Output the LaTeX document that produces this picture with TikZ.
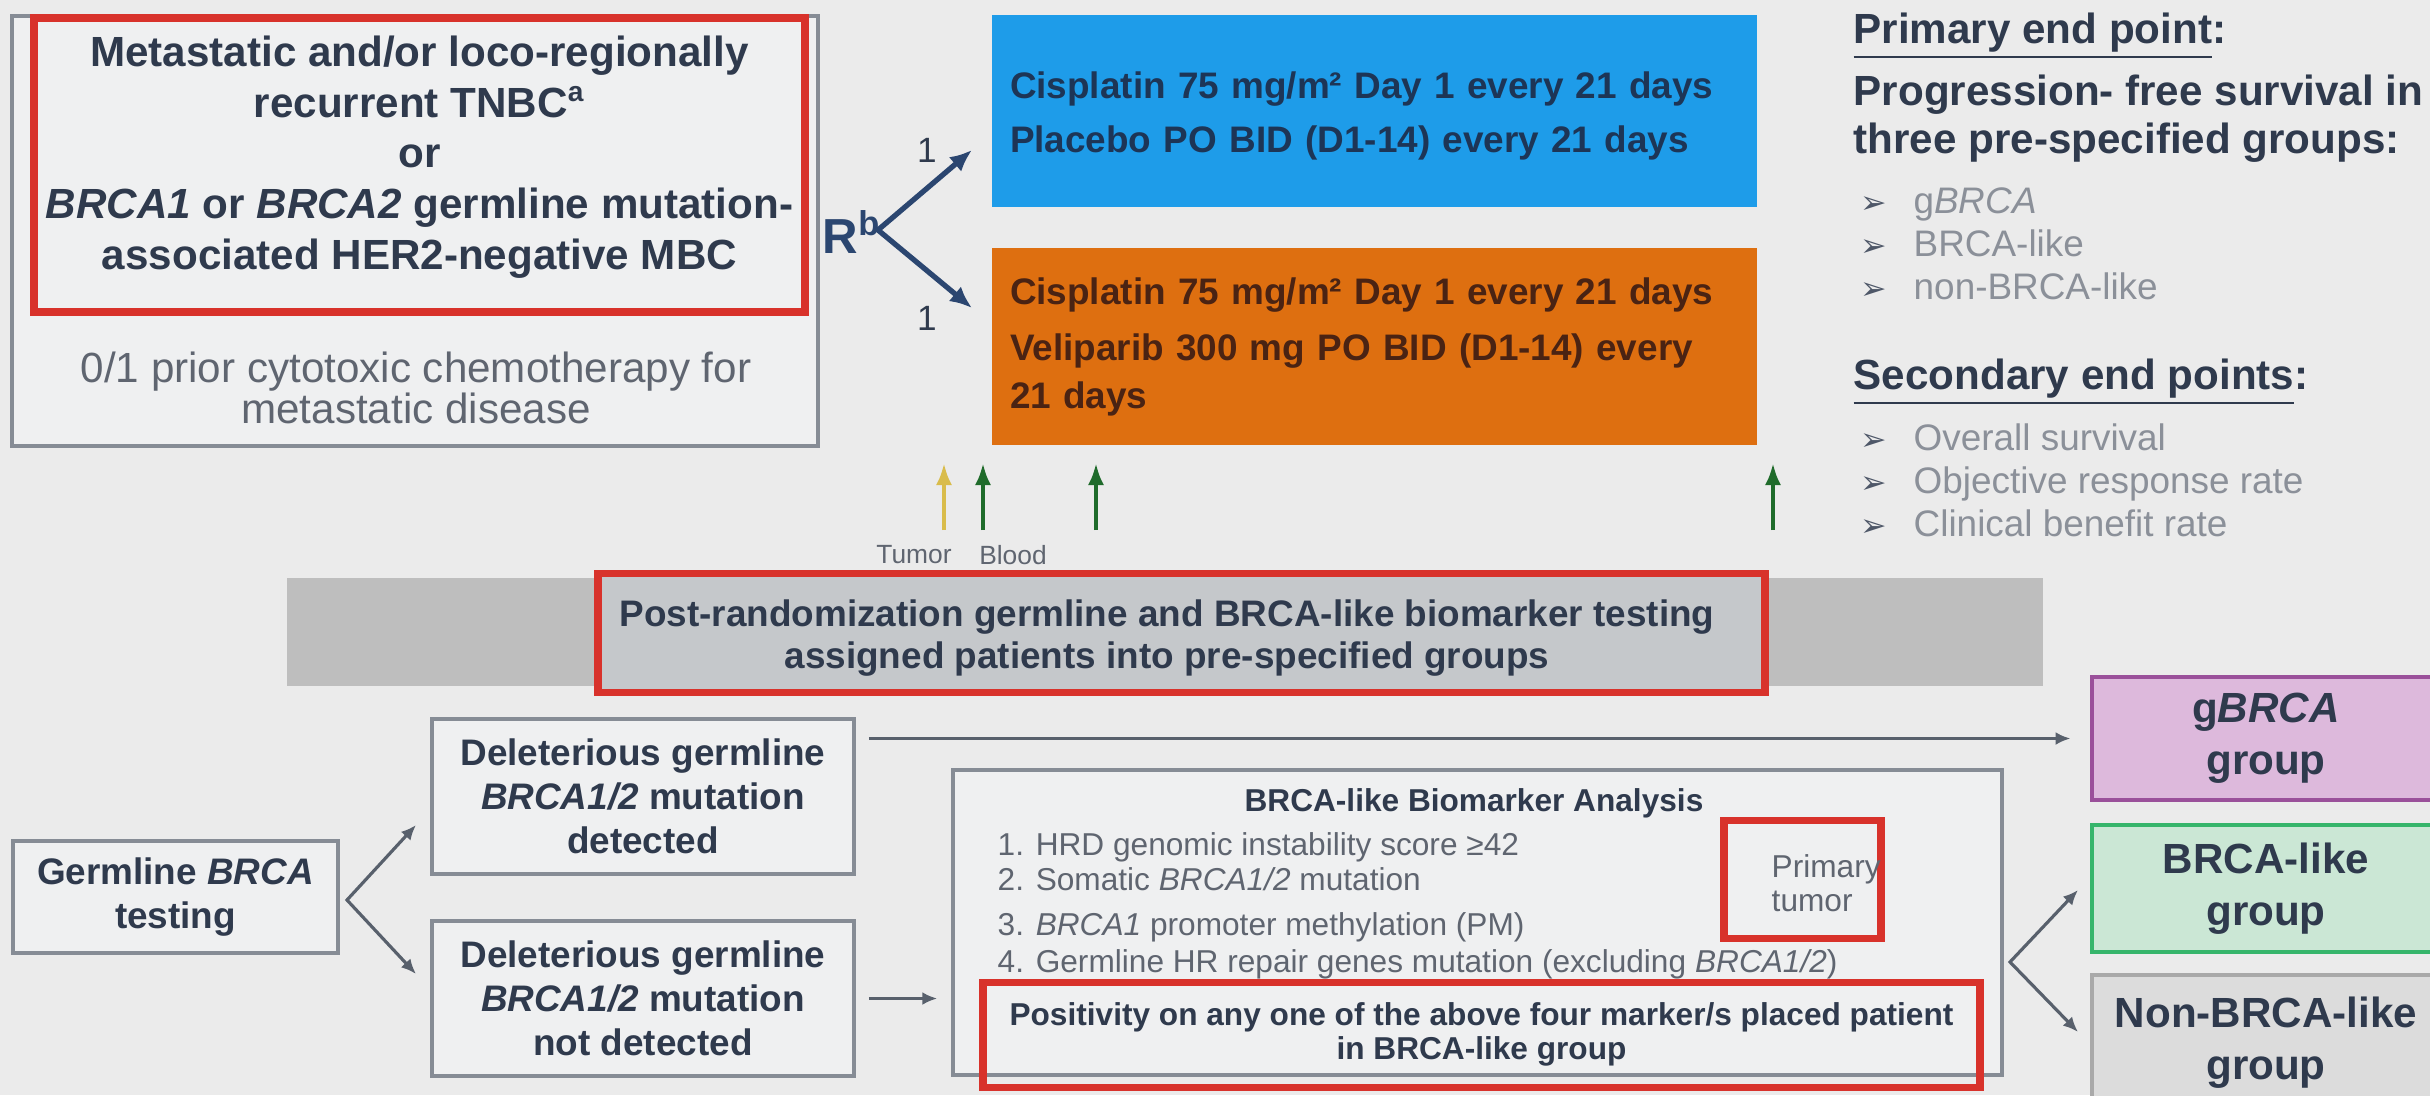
\documentclass[tikz,border=0pt]{standalone}
\usepackage{fontspec}
\setmainfont{Liberation Sans}
\newfontfamily\symfont{DejaVu Sans}
\usetikzlibrary{arrows.meta}

\definecolor{bgc}{HTML}{EBEBEB}
\definecolor{boxc}{HTML}{EFF0F1}
\definecolor{linec}{HTML}{868C95}
\definecolor{inkc}{HTML}{2F3A4D}
\definecolor{greyc}{HTML}{5F6570}
\definecolor{bulc}{HTML}{8B9099}
\definecolor{redc}{HTML}{D8322B}
\definecolor{bluec}{HTML}{1E9CE9}
\definecolor{bluetxt}{HTML}{1D3556}
\definecolor{orangec}{HTML}{DE6F10}
\definecolor{browntxt}{HTML}{4A2313}
\definecolor{bandc}{HTML}{BEBEBE}
\definecolor{postc}{HTML}{C5C8CB}
\definecolor{navyc}{HTML}{2B4670}
\definecolor{arrowc}{HTML}{58606C}
\definecolor{tumc}{HTML}{D9BC4B}
\definecolor{bloodc}{HTML}{1F6B2B}
\definecolor{gbfill}{HTML}{DDB9DC}
\definecolor{gbline}{HTML}{9A509A}
\definecolor{blfill}{HTML}{CBE7D5}
\definecolor{blline}{HTML}{36B56B}
\definecolor{nbfill}{HTML}{DCDCDC}
\definecolor{nbline}{HTML}{A9A9A9}

\newcommand{\bul}{\makebox[5.3mm][l]{\textcolor{inkc!85}{\symfont\fontsize{9}{9}\selectfont ➢}}}
\newcommand{\gene}[1]{\textit{#1}}

\begin{document}
\begin{tikzpicture}
                \tikzset{x=0.1mm, y=-0.1mm}
                \tikzstyle{panel}=[rectangle, draw=linec, fill=boxc, line width=1pt, text=inkc, align=center, font=\bfseries\fontsize{10.5}{12.5}\selectfont]
                \tikzstyle{redbox}=[rectangle, draw=redc, line width=2pt, align=center]
                \tikzstyle{arm}=[rectangle, inner xsep=1.8mm, text width=72.9mm, align=left, font=\bfseries\fontsize{10.5}{13.4}\selectfont]
                \tikzstyle{grpbox}=[rectangle, line width=1.4pt, minimum width=34.8mm, align=center, text=inkc, font=\bfseries\fontsize{12}{14.8}\selectfont]
                \tikzstyle{headtxt}=[anchor=west, inner sep=0pt, align=left, text=inkc, font=\bfseries\fontsize{12}{13.7}\selectfont]
                \tikzstyle{bultxt}=[anchor=west, inner sep=0pt, align=left, text=bulc, font=\fontsize{10.5}{12.2}\selectfont]
                \tikzstyle{smalltxt}=[inner sep=0pt, text=greyc, font=\fontsize{7.5}{8}\selectfont]
                \tikzstyle{flow}=[draw=arrowc, line width=0.9pt, -{Latex[length=1.5mm, width=1.3mm]}]
                \tikzstyle{fork}=[draw=arrowc, line width=0.9pt, {Latex[length=1.5mm, width=1.3mm]}-{Latex[length=1.5mm, width=1.3mm]}]
                \tikzstyle{rand}=[draw=navyc, line width=1.5pt, {Latex[length=2.2mm, width=1.9mm]}-{Latex[length=2.2mm, width=1.9mm]}]
                \tikzstyle{samplearrow}=[line width=1.2pt, -{Latex[length=2.2mm, width=1.6mm]}]

                \useasboundingbox (0,0) rectangle (2430,1095);
                \clip (0,0) rectangle (2430,1095);
                \fill[bgc] (0,0) rectangle (2430,1095);

                \draw (415.0, 231.0)   node[panel, minimum width=80.6mm, minimum height=43mm]    (elig)  {};
                \draw (419.5, 165.0)   node[redbox, minimum width=77.1mm, minimum height=29.4mm] (pop)   {};
                \draw (419.5, 157.0)   node[text=inkc, align=center, font=\bfseries\fontsize{12}{14.4}\selectfont] (poptxt)
                    {Metastatic and/or loco-regionally\\recurrent TNBC\textsuperscript{a}\\or\\\gene{BRCA1} or \gene{BRCA2} germline mutation-\\associated HER2-negative MBC};
                \draw (416.0, 388.0)   node[text=greyc, align=center, font=\fontsize{12}{11.7}\selectfont] (prior)
                    {0/1 prior cytotoxic chemotherapy for\\metastatic disease};

                \draw (852.0, 232.0)   node[text=navyc, font=\bfseries\fontsize{14}{14}\selectfont] (rnd) {R\textsuperscript{b}};
                \draw (927.0, 150.0)   node[text=inkc, font=\fontsize{10}{10}\selectfont] (one1) {1};
                \draw (927.0, 318.0)   node[text=inkc, font=\fontsize{10}{10}\selectfont] (one2) {1};
                \coordinate (rv) at (878, 230);
                \coordinate (ra) at (972, 150);
                \coordinate (rb) at (972, 308);
                \draw[rand] (ra) -- (rv) -- (rb);

                \draw (1374.5, 111.0)  node[arm, fill=bluec, text=bluetxt, minimum height=19.2mm] (armA) {};
                \draw (1374.5, 116.0)  node[arm, text=bluetxt] (armAtxt)
                    {Cisplatin 75 mg/m² Day 1 every 21 days\\[2.2pt]Placebo PO BID (D1-14) every 21 days};
                \draw (1374.5, 346.5)  node[arm, fill=orangec, text=browntxt, minimum height=19.7mm] (armB)
                    {Cisplatin 75 mg/m² Day 1 every 21 days\\[2.8pt]Veliparib 300 mg PO BID (D1-14) every\\21 days};

                \draw (1853.0, 36.0)   node[headtxt] (prim)  {\underline{Primary end point}:};
                \draw (1853.0, 119.0)  node[headtxt] (pfs)   {Progression- free survival in\\three pre-specified groups:};
                \draw (1860.0, 244.0)  node[bultxt]  (plist) {\bul g\gene{BRCA}\\\bul BRCA-like\\\bul non-BRCA-like};
                \draw (1853.0, 382.0)  node[headtxt] (sec)   {\underline{Secondary end points}:};
                \draw (1860.0, 480.0)  node[bultxt]  (slist) {\bul Overall survival\\\bul Objective response rate\\\bul Clinical benefit rate};

                \coordinate (s1) at (944, 530);   \coordinate (e1) at (944, 463);
                \coordinate (s2) at (983, 530);   \coordinate (e2) at (983, 463);
                \coordinate (s3) at (1096, 530);  \coordinate (e3) at (1096, 463);
                \coordinate (s4) at (1773, 530);  \coordinate (e4) at (1773, 463);
                \draw[samplearrow, tumc]   (s1) -- (e1);
                \draw[samplearrow, bloodc] (s2) -- (e2);
                \draw[samplearrow, bloodc] (s3) -- (e3);
                \draw[samplearrow, bloodc] (s4) -- (e4);
                \draw (914.0, 555.0)   node[smalltxt] (tum)   {Tumor};
                \draw (1013.0, 555.0)  node[smalltxt] (blood) {Blood};

                \draw (1165.0, 632.0)  node[rectangle, fill=bandc, minimum width=175.6mm, minimum height=10.8mm] (band) {};
                \draw (1181.5, 632.5)  node[redbox, fill=postc, minimum width=116.7mm, minimum height=11.9mm] (post) {};
                \draw (1167.0, 638.0)  node[text=inkc, align=center, font=\bfseries\fontsize{10.5}{12.2}\selectfont] (posttxt)
                    {Post-randomization germline and BRCA-like biomarker testing\\assigned patients into pre-specified groups};

                \draw (175.5, 897.0)   node[panel, minimum width=32.5mm, minimum height=11.2mm] (gtest) {Germline \gene{BRCA}\\testing};
                \draw (643.0, 796.5)   node[panel, minimum width=42.2mm, minimum height=15.5mm] (det)   {Deleterious germline\\\gene{BRCA1/2} mutation\\detected};
                \draw (643.0, 998.5)   node[panel, minimum width=42.2mm, minimum height=15.5mm] (ndet)  {Deleterious germline\\\gene{BRCA1/2} mutation\\not detected};
                \coordinate (gv) at (347, 900);
                \coordinate (ga) at (416, 825);
                \coordinate (gn) at (416, 974);
                \draw[fork] (ga) -- (gv) -- (gn);

                \draw (1477.5, 922.5)  node[panel, minimum width=104.9mm, minimum height=30.5mm] (bio) {};
                \draw (1474.0, 803.0)  node[text=inkc, font=\bfseries\fontsize{9}{10}\selectfont] (biot) {BRCA-like Biomarker Analysis};
                \draw (997.0, 906.0)   node[anchor=west, inner sep=0pt, align=left, text=greyc, font=\fontsize{9}{10}\selectfont] (items)
                    {1. HRD genomic instability score ≥42\\2. Somatic \gene{BRCA1/2} mutation\\[2.8pt]3. \gene{BRCA1} promoter methylation (PM)\\[0.6pt]4. Germline HR repair genes mutation (excluding \gene{BRCA1/2})};
                \draw (1802.5, 879.0)  node[redbox, minimum width=15.7mm, minimum height=11.8mm] (ptum) {};
                \draw (1771.0, 883.0)  node[anchor=west, inner sep=0pt, align=left, text=greyc, font=\fontsize{9}{9.5}\selectfont] (ptxt) {Primary\\tumor};
                \draw (1481.5, 1034.5) node[redbox, minimum width=99.7mm, minimum height=10.5mm, text=inkc, font=\bfseries\fontsize{9}{9.7}\selectfont] (pos)
                    {Positivity on any one of the above four marker/s placed patient\\in BRCA-like group};

                \draw (2266.0, 738.5)  node[grpbox, fill=gbfill, draw=gbline, minimum height=12.3mm] (gb) {g\gene{BRCA}\\group};
                \draw (2266.0, 888.5)  node[grpbox, fill=blfill, draw=blline, minimum height=12.7mm] (bl) {BRCA-like\\group};
                \draw (2266.0, 1042.5) node[grpbox, fill=nbfill, draw=nbline, minimum height=13.5mm] (nb) {Non-BRCA-like\\group};

                \draw[flow, shorten <=1.3mm, shorten >=1.9mm] (det.east |- gb.west) -- (gb.west);
                \draw[flow, shorten <=1.3mm, shorten >=1.4mm] (ndet.east) -- (ndet.east -| bio.west);
                \coordinate (bv) at (2010, 962);
                \coordinate (ba) at (2078, 890);
                \coordinate (bn) at (2078, 1032);
                \draw[fork] (ba) -- (bv) -- (bn);
            \end{tikzpicture}
\end{document}
